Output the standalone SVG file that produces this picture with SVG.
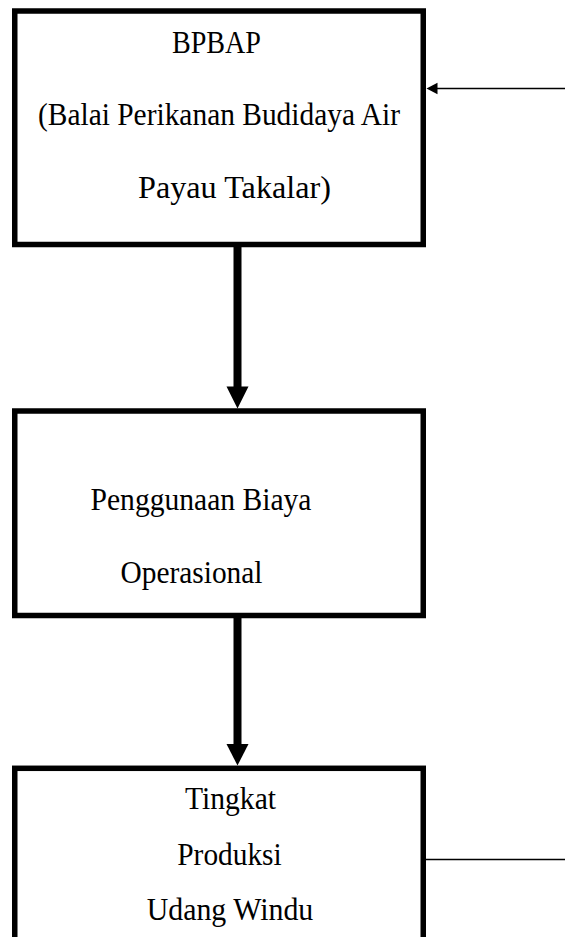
<svg xmlns="http://www.w3.org/2000/svg" width="565" height="937" viewBox="0 0 565 937">
<style>
.box{fill:#fff;stroke:#000;stroke-width:5.5}
.t{font-family:"Liberation Serif","Times New Roman",serif;font-size:31px;fill:#000}
.thick{stroke:#000;stroke-width:8;fill:none}
.thin{stroke:#000;stroke-width:1.4;fill:none}
</style>
<rect width="565" height="937" fill="#fff"/>
<g id="connectors">
<line class="thick" x1="237.5" y1="246" x2="237.5" y2="388"/>
<polygon points="226.5,386.5 248.5,386.5 237.5,408.5" fill="#000"/>
<line class="thick" x1="237.5" y1="617" x2="237.5" y2="746"/>
<polygon points="226.5,744 248.5,744 237.5,765.5" fill="#000"/>
<line class="thin" x1="434" y1="88.5" x2="565" y2="88.5"/>
<polygon points="426.5,88.5 437.5,82.8 437.5,94.2" fill="#000"/>
<line class="thin" x1="426" y1="859.5" x2="565" y2="859.5"/>
</g>
<g id="node-bpbap">
<rect class="box" x="14.75" y="11" width="408.5" height="233.5"/>
<text class="t" x="172" y="53" textLength="89" lengthAdjust="spacingAndGlyphs">BPBAP</text>
<text class="t" x="38" y="125" textLength="362" lengthAdjust="spacingAndGlyphs">(Balai Perikanan Budidaya Air</text>
<text class="t" x="138" y="198" textLength="193" lengthAdjust="spacingAndGlyphs">Payau Takalar)</text>
</g>
<g id="node-biaya">
<rect class="box" x="14.75" y="411" width="408.5" height="204.5"/>
<text class="t" x="90.5" y="510" textLength="221" lengthAdjust="spacingAndGlyphs">Penggunaan Biaya</text>
<text class="t" x="120.5" y="582.5" textLength="142" lengthAdjust="spacingAndGlyphs">Operasional</text>
</g>
<g id="node-produksi">
<rect class="box" x="14.75" y="768.3" width="408.5" height="240"/>
<text class="t" x="185" y="809" textLength="91" lengthAdjust="spacingAndGlyphs">Tingkat</text>
<text class="t" x="177.3" y="865" textLength="104.4" lengthAdjust="spacingAndGlyphs">Produksi</text>
<text class="t" x="146.7" y="920" textLength="166.6" lengthAdjust="spacingAndGlyphs">Udang Windu</text>
</g>
</svg>
